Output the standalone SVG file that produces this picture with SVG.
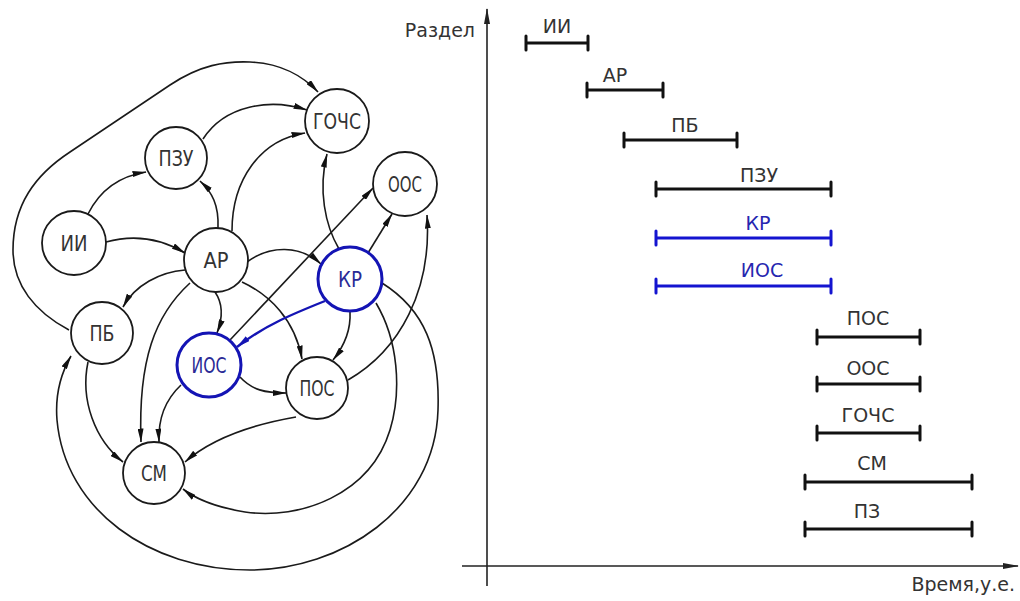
<svg xmlns="http://www.w3.org/2000/svg" width="1020" height="601" viewBox="0 0 1020 601">
  <defs>
    <marker id="arr" viewBox="0 0 14 6" refX="13.5" refY="3" markerWidth="14" markerHeight="6" markerUnits="userSpaceOnUse" orient="auto">
      <path d="M0,0 L14,3 L0,6 Z" fill="#111"/>
    </marker>
    <marker id="arrBlue" viewBox="0 0 14 6" refX="13.5" refY="3" markerWidth="14" markerHeight="6" markerUnits="userSpaceOnUse" orient="auto">
      <path d="M0,0 L14,3 L0,6 Z" fill="#1414b4"/>
    </marker>
    <marker id="axisArr" viewBox="0 0 16 6" refX="15" refY="3" markerWidth="16" markerHeight="6" markerUnits="userSpaceOnUse" orient="auto">
      <path d="M0,0 L16,3 L0,6 Z" fill="#222"/>
    </marker>
  </defs>
  <style>
    text { font-family: "DejaVu Sans", "Liberation Sans", sans-serif; fill: #333; }
    .node circle { fill: #fff; stroke: #1a1a1a; stroke-width: 1.8; }
    .node.hl circle { stroke: #1414b4; stroke-width: 3; }
    .node text { font-size: 21px; text-anchor: middle; }
    .node.hl text { fill: #2a2a96; }
    .edge { fill: none; stroke: #1a1a1a; stroke-width: 1.6; marker-end: url(#arr); }
    .edge.hl { stroke: #1414b4; stroke-width: 2.4; marker-end: url(#arrBlue); }
    .axis { fill: none; stroke: #222; stroke-width: 1.6; }
    .bar { fill: none; stroke: #111; stroke-width: 3; stroke-linecap: round; }
    .bar.hl { stroke: #1414d0; }
    .bar-label { font-size: 19px; text-anchor: middle; }
    .bar-label.hl { fill: #2626b0; }
    .axis-label { font-size: 19px; }
  </style>

  <!-- dependency graph: connectors -->
  <g id="connectors">
    <path class="edge" d="M88,214 C100,190 120,176 146,172"/>
    <path class="edge" d="M106,242 C135,234 160,238 185,253"/>
    <path class="edge" d="M218,228 C219,205 212,192 200,181"/>
    <path class="edge" d="M203,139 C225,105 270,98 307,110"/>
    <path class="edge" d="M232,231 C232,180 260,140 305,133"/>
    <path class="edge" d="M69,330 C35,312 13,285 13,250 C13,205 35,175 70,152 C110,125 140,105 170,85 C200,65 225,61 250,62 C280,63 303,76 318,92"/>
    <path class="edge" d="M339,249 C325,225 318,190 327,154"/>
    <path class="edge" d="M230,340 L373,188"/>
    <path class="edge" d="M368,253 L392,214"/>
    <path class="edge" d="M348,380 C400,350 432,290 427,215"/>
    <path class="edge" d="M247,262 C270,245 300,245 321,264"/>
    <path class="edge" d="M215,292 C224,305 222,320 217,333"/>
    <path class="edge" d="M242,282 C270,295 295,320 302,359"/>
    <path class="edge" d="M185,270 C160,272 135,285 123,307"/>
    <path class="edge" d="M190,283 C155,315 138,360 141,442"/>
    <path class="edge" d="M181,385 C165,400 158,420 159,442"/>
    <path class="edge" d="M88,362 C80,400 95,440 123,462"/>
    <path class="edge" d="M296,417 C250,425 210,440 185,462"/>
    <path class="edge" d="M376,303 C398,340 402,390 390,430 C370,495 300,520 245,512 C215,507 197,500 183,489"/>
    <path class="edge" d="M382,283 C425,310 440,350 438,410 C435,510 340,570 250,570 C150,570 65,510 57,420 C55,395 60,375 71,356"/>
    <path class="edge" d="M350,312 C351,330 345,345 333,360"/>
    <path class="edge" d="M240,377 C252,390 265,393 286,393"/>
    <path class="edge hl" d="M325,301 C295,313 265,325 237,347"/>
  </g>

  <!-- dependency graph: nodes -->
  <g id="node-ii" class="node"><circle cx="74" cy="243" r="32"/><text x="74" y="251" textLength="27" lengthAdjust="spacingAndGlyphs">ИИ</text></g>
  <g id="node-pzu" class="node"><circle cx="176" cy="158" r="31"/><text x="176" y="166" textLength="35" lengthAdjust="spacingAndGlyphs">ПЗУ</text></g>
  <g id="node-gochs" class="node"><circle cx="337" cy="121" r="32"/><text x="337" y="129" textLength="48" lengthAdjust="spacingAndGlyphs">ГОЧС</text></g>
  <g id="node-oos" class="node"><circle cx="405" cy="184" r="32"/><text x="405" y="192" textLength="34" lengthAdjust="spacingAndGlyphs">ООС</text></g>
  <g id="node-ar" class="node"><circle cx="216" cy="260" r="32"/><text x="216" y="268" textLength="25" lengthAdjust="spacingAndGlyphs">АР</text></g>
  <g id="node-kr" class="node hl"><circle cx="350" cy="279" r="32"/><text x="350" y="287" textLength="24" lengthAdjust="spacingAndGlyphs">КР</text></g>
  <g id="node-pb" class="node"><circle cx="102" cy="333" r="31"/><text x="102" y="341" textLength="25" lengthAdjust="spacingAndGlyphs">ПБ</text></g>
  <g id="node-ios" class="node hl"><circle cx="209" cy="365" r="32"/><text x="209" y="373" textLength="35" lengthAdjust="spacingAndGlyphs">ИОС</text></g>
  <g id="node-pos" class="node"><circle cx="317" cy="388" r="31"/><text x="317" y="396" textLength="35" lengthAdjust="spacingAndGlyphs">ПОС</text></g>
  <g id="node-sm" class="node"><circle cx="154" cy="473" r="31"/><text x="154" y="481" textLength="26" lengthAdjust="spacingAndGlyphs">СМ</text></g>

  <!-- schedule chart -->
  <g id="chart">
    <path class="axis" d="M487,586 L487,9" marker-end="url(#axisArr)"/>
    <path class="axis" d="M462,566 L1018,566" marker-end="url(#axisArr)"/>
    <text class="axis-label" x="475" y="37" text-anchor="end">Раздел</text>
    <text class="axis-label" x="1015" y="591" text-anchor="end">Время,у.е.</text>

    <g id="bar-ii"><path class="bar" d="M526,43 H588 M526,36 V50 M588,36 V50"/><text class="bar-label" x="557" y="33">ИИ</text></g>
    <g id="bar-ar"><path class="bar" d="M587,90 H663 M587,83 V97 M663,83 V97"/><text class="bar-label" x="615" y="82">АР</text></g>
    <g id="bar-pb"><path class="bar" d="M624,140 H737 M624,133 V147 M737,133 V147"/><text class="bar-label" x="685" y="132">ПБ</text></g>
    <g id="bar-pzu"><path class="bar" d="M656,189 H831 M656,182 V196 M831,182 V196"/><text class="bar-label" x="759" y="182">ПЗУ</text></g>
    <g id="bar-kr"><path class="bar hl" d="M656,238 H831 M656,231 V245 M831,231 V245"/><text class="bar-label hl" x="758" y="230">КР</text></g>
    <g id="bar-ios"><path class="bar hl" d="M656,286 H831 M656,279 V293 M831,279 V293"/><text class="bar-label hl" x="762" y="277">ИОС</text></g>
    <g id="bar-pos"><path class="bar" d="M817,337 H920 M817,330 V344 M920,330 V344"/><text class="bar-label" x="868" y="325">ПОС</text></g>
    <g id="bar-oos"><path class="bar" d="M817,384 H920 M817,377 V391 M920,377 V391"/><text class="bar-label" x="868" y="375">ООС</text></g>
    <g id="bar-gochs"><path class="bar" d="M817,433 H920 M817,426 V440 M920,426 V440"/><text class="bar-label" x="868" y="422">ГОЧС</text></g>
    <g id="bar-sm"><path class="bar" d="M805,482 H972 M805,475 V489 M972,475 V489"/><text class="bar-label" x="872" y="470">СМ</text></g>
    <g id="bar-pz"><path class="bar" d="M805,529 H972 M805,522 V536 M972,522 V536"/><text class="bar-label" x="867" y="518">ПЗ</text></g>
  </g>
</svg>
